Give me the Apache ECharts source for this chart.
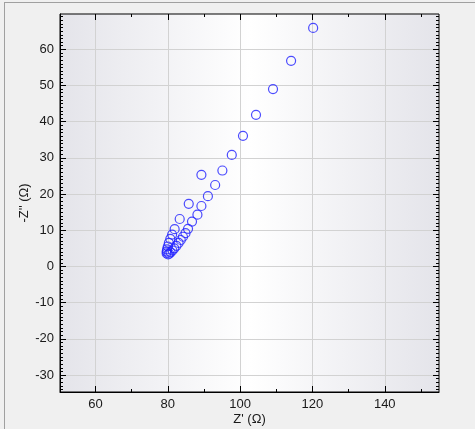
<!DOCTYPE html>
<html>
<head>
<meta charset="utf-8">
<script src="https://cdn.jsdelivr.net/npm/echarts@6/dist/echarts.min.js"></script>
<style>
  html, body { margin: 0; padding: 0; background: #f0f0f0; }
  .frame {
    position: absolute; left: 4px; top: 2px; width: 480px; height: 440px;
    border-top: 1px solid #a0a0a0; border-left: 1px solid #a0a0a0;
  }
  #chart { position: absolute; left: 0; top: 0; width: 475px; height: 429px; }
</style>
</head>
<body>
<div class="frame"></div>
<div id="chart"></div>
<script>
// Nyquist data: Z' (real) and -Z'' (imag), ohm
const zReal = [
  120.2, 114.1, 109.1, 104.4, 100.8, 97.7, 95.1, 93.1, 91.1, 89.3, 88.2, 86.7,
  85.6, 84.9, 84.2, 83.6, 83.0, 82.4, 81.8, 81.3, 80.8, 80.4, 80.1,
  89.3, 85.8, 83.3, 81.9, 81.2, 80.7, 80.3, 80.0, 79.8, 79.7, 79.7
]
const zImag = [
  65.9, 56.8, 49.0, 41.9, 36.1, 30.8, 26.5, 22.5, 19.4, 16.7, 14.3, 12.4,
  10.4, 9.2, 8.2, 7.3, 6.5, 5.7, 5.0, 4.4, 3.9, 3.5, 3.3,
  25.3, 17.3, 13.1, 10.3, 8.8, 7.6, 6.5, 5.5, 4.7, 4.1, 3.6
]

// tick labels
const xLabels = [60, 80, 100, 120, 140]
const xMinor = [70, 90, 110, 130, 150]
const yLabels = [-30, -20, -10, 0, 10, 20, 30, 40, 50, 60]

// axis ranges
const xMin = 50.2, xMax = 155.0
const yMin = -34.7, yMax = 69.75

// small ticks on y every 1 ohm
const yMinor = []
for (let v = Math.ceil(yMin); v <= yMax; v++) yMinor.push(v)

const font = 'Arial, "Liberation Sans", sans-serif'
const chart = echarts.init(document.getElementById('chart'))

const plainAxis = (extra) => Object.assign({
  type: 'value',
  gridIndex: 0,
  axisLine: { show: false, onZero: false },
  axisLabel: { show: false },
  splitLine: { show: false }
}, extra)

const option = {
  animation: false,
  grid: {
    left: 60, right: 36, top: 14, bottom: 37,
    outerBoundsMode: 'none',
    show: true,
    borderColor: '#000',
    borderWidth: 1,
    backgroundColor: new echarts.graphic.LinearGradient(0, 0, 1, 0, [
      { offset: 0, color: '#e4e4ea' },
      { offset: 0.5, color: '#ffffff' },
      { offset: 1, color: '#e4e4ea' }
    ])
  },
  xAxis: [
    {
      type: 'value', min: xMin, max: xMax, position: 'bottom',
      name: "Z' (Ω)", nameLocation: 'middle', nameGap: 21, nameMoveOverlap: false,
      nameTextStyle: { color: '#1a1a1a', fontSize: 13, fontFamily: font },
      axisLine: { show: true, onZero: false, lineStyle: { color: '#000' } },
      axisTick: { inside: true, length: 6, customValues: xLabels, lineStyle: { color: '#000' } },
      axisLabel: { customValues: xLabels, color: '#1a1a1a', fontSize: 13, fontFamily: font, margin: 6 },
      splitLine: { show: true, lineStyle: { color: '#d2d2d2', width: 1 } }
    },
    plainAxis({ min: xMin, max: xMax, position: 'bottom',
      axisTick: { inside: true, length: 3, customValues: xMinor, lineStyle: { color: '#000' } } }),
    plainAxis({ min: xMin, max: xMax, position: 'top',
      axisTick: { inside: true, length: 6, customValues: xLabels, lineStyle: { color: '#000' } } }),
    plainAxis({ min: xMin, max: xMax, position: 'top',
      axisTick: { inside: true, length: 3, customValues: xMinor, lineStyle: { color: '#000' } } })
  ],
  yAxis: [
    {
      type: 'value', min: yMin, max: yMax, position: 'left',
      name: "-Z'' (Ω)", nameLocation: 'middle', nameGap: 29, nameMoveOverlap: false,
      nameTextStyle: { color: '#1a1a1a', fontSize: 13, fontFamily: font },
      axisLine: { show: true, onZero: false, lineStyle: { color: '#000' } },
      axisTick: { inside: true, length: 6, customValues: yLabels, lineStyle: { color: '#000' } },
      axisLabel: { customValues: yLabels, color: '#1a1a1a', fontSize: 13, fontFamily: font, margin: 6 },
      splitLine: { show: true, lineStyle: { color: '#d2d2d2', width: 1 } }
    },
    plainAxis({ min: yMin, max: yMax, position: 'left',
      axisTick: { inside: true, length: 3, customValues: yMinor, lineStyle: { color: '#000' } } }),
    plainAxis({ min: yMin, max: yMax, position: 'right',
      axisTick: { inside: true, length: 6, customValues: yLabels, lineStyle: { color: '#000' } } }),
    plainAxis({ min: yMin, max: yMax, position: 'right',
      axisTick: { inside: true, length: 3, customValues: yMinor, lineStyle: { color: '#000' } } })
  ],
  series: [{
    type: 'scatter',
    xAxisIndex: 0,
    yAxisIndex: 0,
    data: zReal.map((x, i) => [x, zImag[i]]),
    symbol: 'circle',
    symbolSize: 9,
    itemStyle: { color: 'rgba(0,0,0,0)', borderColor: '#1f1fff', borderWidth: 1.2 }
  }]
}

chart.setOption(option)
</script>
</body>
</html>
